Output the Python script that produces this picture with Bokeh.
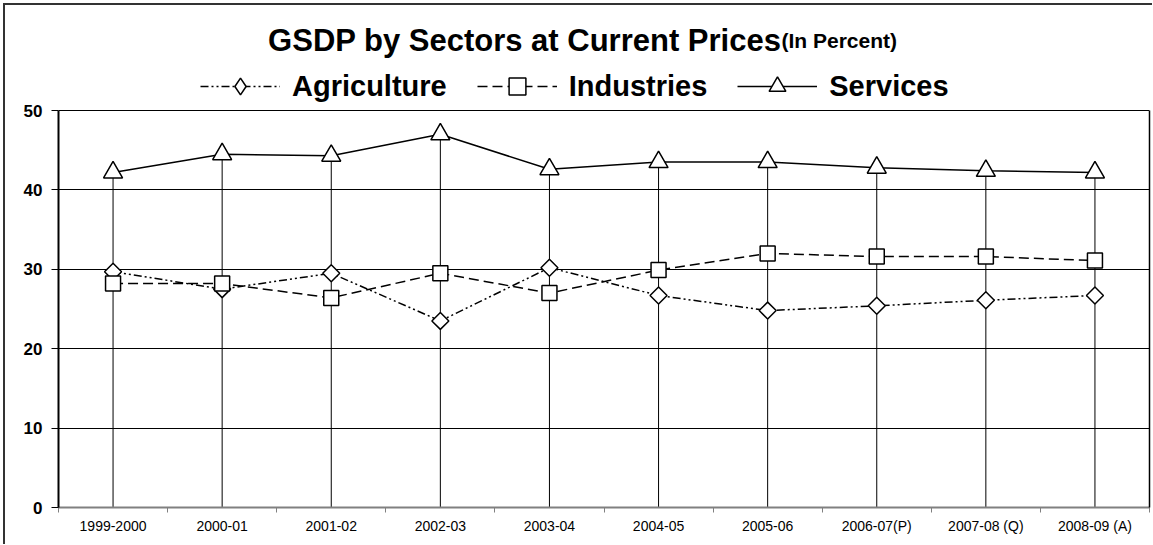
import numpy as np
from bokeh.plotting import figure
from bokeh.models import (Range1d, FixedTicker, Label, Legend, LegendItem, LinearAxis)
from bokeh.embed import file_html
from bokeh.resources import INLINE

# ---- data ----
categories = ["1999-2000", "2000-01", "2001-02", "2002-03", "2003-04",
              "2004-05", "2005-06", "2006-07(P)", "2007-08 (Q)", "2008-09 (A)"]
agriculture = [29.7, 27.5, 29.5, 23.5, 30.2, 26.7, 24.8, 25.4, 26.1, 26.7]
industries = [28.2, 28.2, 26.4, 29.5, 27.0, 29.9, 32.0, 31.6, 31.6, 31.1]
services = [42.2, 44.5, 44.3, 47.0, 42.6, 43.5, 43.5, 42.8, 42.4, 42.2]
series_names = ["Agriculture", "Industries", "Services"]
y_ticks = [0, 10, 20, 30, 40, 50]
title_main = "GSDP by Sectors at Current Prices"
title_sub = "(In Percent)"

FONT = "Liberation Sans"

# ---- layout (pixels) ----
W, H = 1152, 544
BL, BR, BT = 58, 3, 6
PLOT_TOP_PX = 110          # page y of the value-50 line
PLOT_BOT_PX = 507          # page y of the value-0 line
BB = H - PLOT_BOT_PX
FRAME_W = W - BL - BR
Y_MAX = y_ticks[-1]
PX_PER_Y = (PLOT_BOT_PX - PLOT_TOP_PX) / Y_MAX
Y_TOP = Y_MAX + (PLOT_TOP_PX - BT) / PX_PER_Y
LEG_ROW = 42

styles = [
    dict(line_dash="8 3 2 3 2 3", marker="square", angle=np.pi / 4, size=12,
         legend_marker="diamond"),
    dict(line_dash="10 5", marker="square", angle=0.0, size=15,
         legend_marker="square"),
    dict(line_dash="solid", marker="triangle", angle=0.0, size=19,
         legend_marker="triangle"),
]

n = len(categories)
xc = (np.arange(n) + 0.5).tolist()
bounds = np.arange(n + 1).tolist()
top = np.maximum(np.maximum(agriculture, industries), services).tolist()

p = figure(width=W, height=H, output_backend="svg", toolbar_location=None,
           title=None, x_range=Range1d(0, n), y_range=Range1d(0, Y_TOP),
           min_border_left=BL, min_border_right=BR, min_border_top=BT,
           min_border_bottom=BB)
p.styles = {"box-shadow": "inset 3px 3px 0 0 #ffffff, inset 5px 5px 0 0 #333333",
            "background-color": "#ffffff"}
p.background_fill_color = "white"
p.border_fill_alpha = 0
p.outline_line_color = None

p.xgrid.visible = False
p.ygrid.ticker = FixedTicker(ticks=y_ticks)
p.ygrid.grid_line_color = "black"
p.ygrid.grid_line_width = 1

p.yaxis.ticker = FixedTicker(ticks=y_ticks)
p.yaxis.bounds = (y_ticks[0], y_ticks[-1])
p.yaxis.axis_line_color = "black"
p.yaxis.axis_line_width = 2
p.yaxis.major_tick_line_color = "black"
p.yaxis.major_tick_out = 7
p.yaxis.major_tick_in = 0
p.yaxis.minor_tick_line_color = None
p.yaxis.major_label_standoff = 9
p.yaxis.major_label_text_font = FONT
p.yaxis.major_label_text_font_style = "bold"
p.yaxis.major_label_text_font_size = "17px"
p.yaxis.major_label_text_color = "black"

# right edge of the plot box
rax = LinearAxis(ticker=FixedTicker(ticks=[]), bounds=(y_ticks[0], y_ticks[-1]),
                 axis_line_color="black", axis_line_width=1.5,
                 major_tick_line_color=None, minor_tick_line_color=None,
                 major_label_text_font_size="0px", major_label_standoff=0)
p.add_layout(rax, "right")

p.xaxis.ticker = FixedTicker(ticks=xc, minor_ticks=bounds)
p.xaxis.major_label_overrides = {x: c for x, c in zip(xc, categories)}
p.xaxis.axis_line_color = "#808080"
p.xaxis.axis_line_width = 2
p.xaxis.major_tick_line_color = None
p.xaxis.minor_tick_line_color = "#808080"
p.xaxis.minor_tick_out = 5
p.xaxis.minor_tick_in = 0
p.xaxis.major_label_standoff = 4
p.xaxis.major_label_text_font = FONT
p.xaxis.major_label_text_font_size = "14px"
p.xaxis.major_label_text_color = "black"

# drop lines
p.segment(x0=xc, y0=[0] * n, x1=xc, y1=top, line_color="black", line_width=1)

series = [agriculture, industries, services]
line_rs = []
for vals, st in zip(series, styles):
    line_rs.append(p.line(xc, vals, line_color="black", line_width=1.5,
                          line_dash=st["line_dash"]))
for vals, st in zip(series, styles):
    p.scatter(xc, vals, marker=st["marker"], angle=st["angle"],
              size=st["size"], fill_color="white",
              line_color="black", line_width=1.5)
# legend-only marker proxies (not drawn in the plot)
proxy_rs = []
for vals, st in zip(series, styles):
    proxy_rs.append(p.scatter(xc, vals, marker=st["legend_marker"], size=st["size"],
                              fill_color="white", line_color="black",
                              line_width=1.5, visible=False))

items = [LegendItem(label=nm, renderers=[lr, mr])
         for nm, lr, mr in zip(series_names, line_rs, proxy_rs)]
legend = Legend(items=items, orientation="horizontal",
                location=(200 - BL, PLOT_BOT_PX - 86 - LEG_ROW // 2),
                label_text_font=FONT, label_text_font_style="bold",
                label_text_font_size="29px", label_text_color="black",
                glyph_width=80, glyph_height=LEG_ROW, label_height=LEG_ROW,
                label_standoff=12, spacing=30, padding=0, margin=0,
                border_line_color=None, background_fill_alpha=0,
                inactive_fill_alpha=0)
p.add_layout(legend)

# title (two sizes, joined at one point)
tx = (781 - BL) * n / FRAME_W
ty = (PLOT_BOT_PX - 40) / PX_PER_Y
p.add_layout(Label(x=tx, y=ty, text=title_main,
                   text_align="right", text_baseline="alphabetic",
                   text_font=FONT, text_font_style="bold", text_font_size="31px",
                   text_color="black"))
p.add_layout(Label(x=tx, y=ty, text=title_sub,
                   text_align="left", text_baseline="alphabetic",
                   text_font=FONT, text_font_style="bold", text_font_size="21px",
                   text_color="black"))

open("out.html", "w").write(file_html(p, INLINE))
